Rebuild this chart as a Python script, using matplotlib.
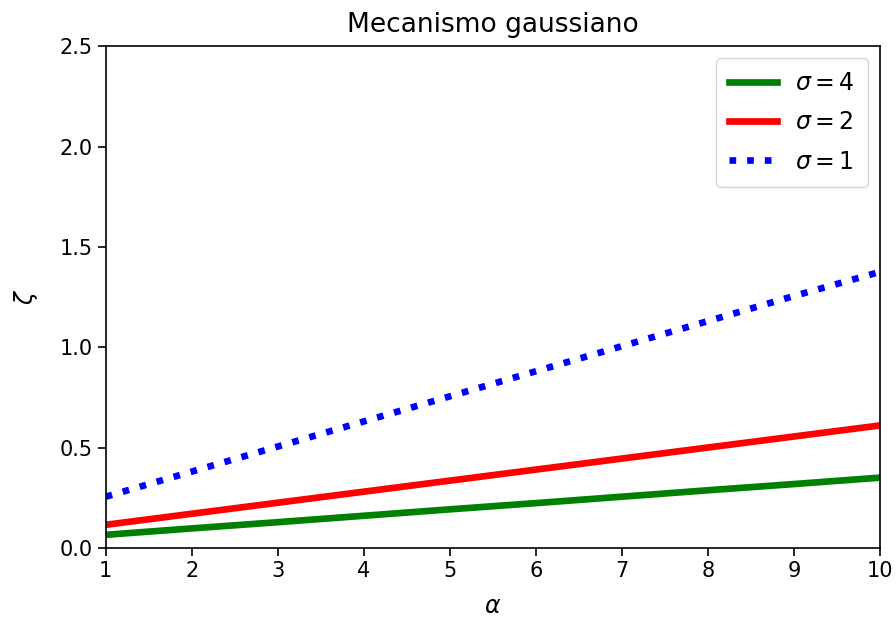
import matplotlib
matplotlib.use('Agg')
import matplotlib.pyplot as plt

# alpha values and zeta for each sigma
alpha = [1, 2, 3, 4, 5, 6, 7, 8, 9, 10]
zeta_s4 = [0.065, 0.097, 0.128, 0.160, 0.192, 0.223, 0.255, 0.287, 0.318, 0.350]
zeta_s2 = [0.115, 0.170, 0.225, 0.280, 0.335, 0.390, 0.445, 0.500, 0.555, 0.610]
zeta_s1 = [0.255, 0.380, 0.505, 0.630, 0.755, 0.880, 1.005, 1.130, 1.255, 1.375]

plt.rcParams['font.size'] = 15

fig = plt.figure(figsize=(8.96, 6.24), dpi=100)
ax = fig.add_axes([0.118, 0.122, 0.864, 0.804])

ax.plot(alpha, zeta_s4, color='green', lw=4.8, label=r'$\sigma = 4$')
ax.plot(alpha, zeta_s2, color='red', lw=4.8, label=r'$\sigma = 2$')
ax.plot(alpha, zeta_s1, color='blue', lw=4.8, linestyle=':', label=r'$\sigma = 1$')

ax.set_xlim(1, 10)
ax.set_ylim(0, 2.5)
ax.set_xticks(range(1, 11))
ax.tick_params(labelsize=15, length=6, width=1.2)
for s in ax.spines.values():
    s.set_linewidth(1.2)
ax.set_title('Mecanismo gaussiano', fontsize=19, pad=10)
ax.set_xlabel(r'$\alpha$', fontsize=17, labelpad=9)
ax.set_ylabel(r'$\zeta$', fontsize=17, labelpad=14)
ax.legend(loc='upper right', fontsize=17, labelspacing=0.65, handlelength=2.0,
          borderpad=0.55)

fig.savefig('out.png', dpi=100)
